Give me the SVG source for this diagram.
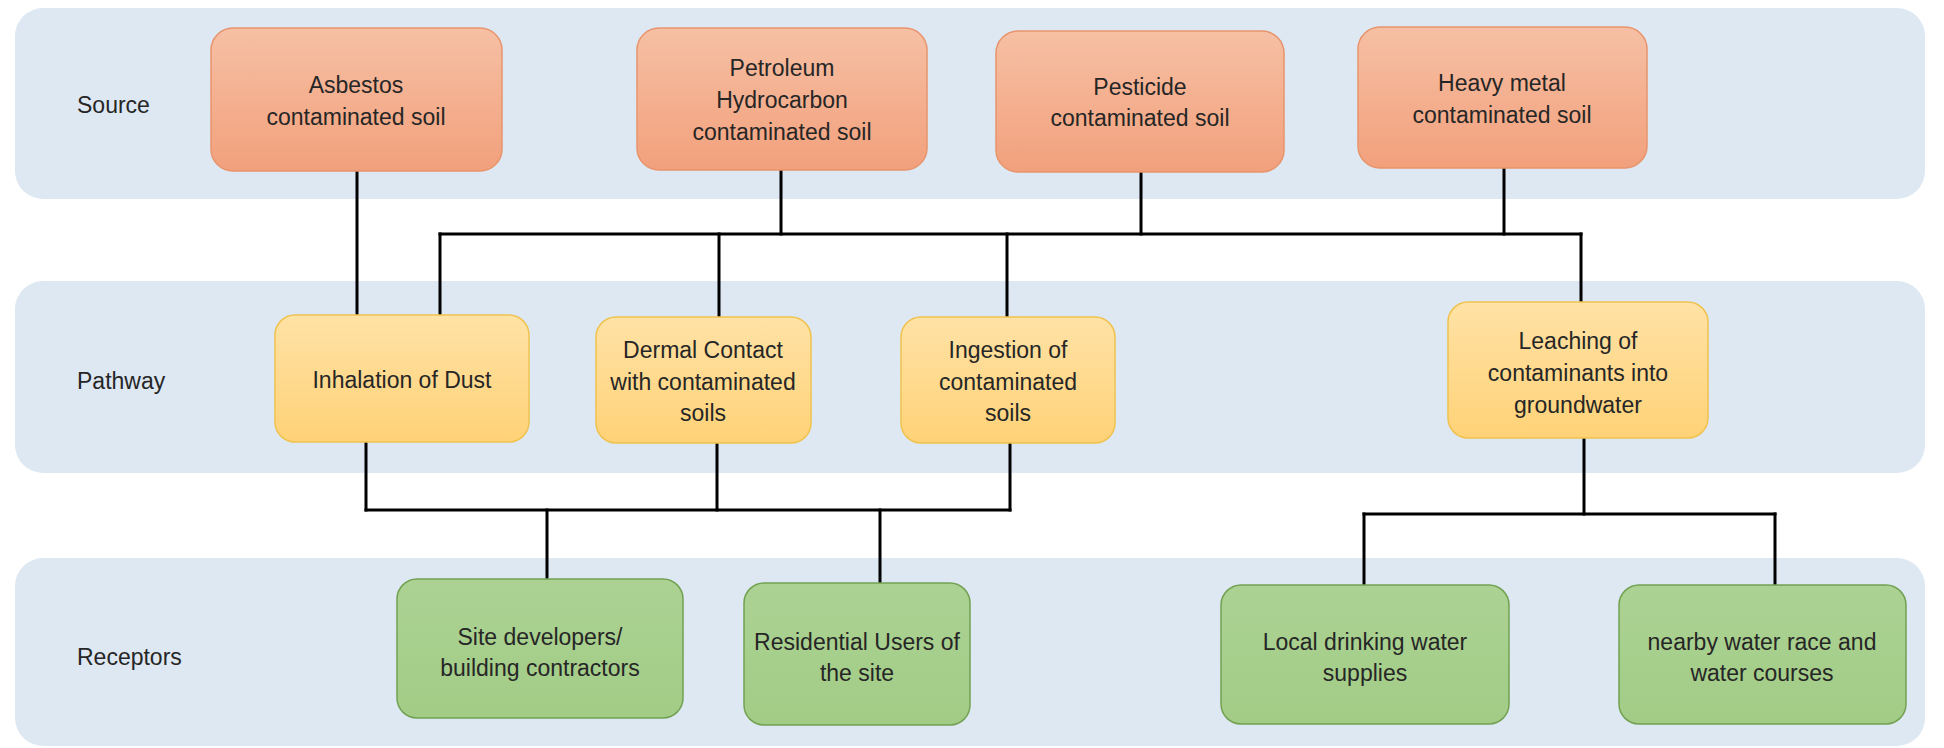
<svg xmlns="http://www.w3.org/2000/svg" width="1944" height="748" viewBox="0 0 1944 748">
<defs>
<linearGradient id="gSrc" x1="0" y1="0" x2="0" y2="1"><stop offset="0" stop-color="#f6c0a4"/><stop offset="1" stop-color="#f2a07c"/></linearGradient>
<linearGradient id="gPath" x1="0" y1="0" x2="0" y2="1"><stop offset="0" stop-color="#ffe2a6"/><stop offset="1" stop-color="#ffd277"/></linearGradient>
<linearGradient id="gRec" x1="0" y1="0" x2="0" y2="1"><stop offset="0" stop-color="#acd293"/><stop offset="1" stop-color="#a2cc86"/></linearGradient>
<style>
.band{fill:#dee8f3}
.src{fill:url(#gSrc);stroke:#e8946c;stroke-width:1.5}
.pth{fill:url(#gPath);stroke:#f0c24e;stroke-width:1.5}
.rec{fill:url(#gRec);stroke:#72a152;stroke-width:1.5}
text{font-family:"Liberation Sans",Arial,sans-serif;font-size:23px;fill:#262626}
.c{text-anchor:middle}
.conn line{stroke:#000;stroke-width:3;stroke-linecap:square}
</style>
</defs>
<g id="bands">
<rect class="band" x="15" y="8" width="1910" height="191" rx="28"/>
<rect class="band" x="15" y="281" width="1910" height="192" rx="28"/>
<rect class="band" x="15" y="558" width="1910" height="188" rx="28"/>
<text x="77" y="113">Source</text>
<text x="77" y="389">Pathway</text>
<text x="77" y="665">Receptors</text>
</g>
<g class="conn" id="connectors">
<line x1="357" y1="171" x2="357" y2="315"/>
<line x1="440" y1="234" x2="1581" y2="234"/>
<line x1="781" y1="170" x2="781" y2="234"/>
<line x1="1141" y1="172" x2="1141" y2="234"/>
<line x1="1504" y1="168" x2="1504" y2="234"/>
<line x1="440" y1="234" x2="440" y2="315"/>
<line x1="719" y1="234" x2="719" y2="317"/>
<line x1="1007" y1="234" x2="1007" y2="317"/>
<line x1="1581" y1="234" x2="1581" y2="302"/>
<line x1="366" y1="442" x2="366" y2="510"/>
<line x1="717" y1="443" x2="717" y2="510"/>
<line x1="1010" y1="443" x2="1010" y2="510"/>
<line x1="366" y1="510" x2="1010" y2="510"/>
<line x1="547" y1="510" x2="547" y2="579"/>
<line x1="880" y1="510" x2="880" y2="583"/>
<line x1="1584" y1="438" x2="1584" y2="514"/>
<line x1="1364" y1="514" x2="1775" y2="514"/>
<line x1="1364" y1="514" x2="1364" y2="585"/>
<line x1="1775" y1="514" x2="1775" y2="585"/>
</g>
<g id="asbestos"><rect class="src" x="211" y="28" width="291" height="143" rx="22"/><text class="c" x="356" y="93">Asbestos</text><text class="c" x="356" y="125">contaminated soil</text></g>
<g id="petroleum"><rect class="src" x="637" y="28" width="290" height="142" rx="22"/><text class="c" x="782" y="76">Petroleum</text><text class="c" x="782" y="108">Hydrocarbon</text><text class="c" x="782" y="140">contaminated soil</text></g>
<g id="pesticide"><rect class="src" x="996" y="31" width="288" height="141" rx="22"/><text class="c" x="1140" y="95">Pesticide</text><text class="c" x="1140" y="126">contaminated soil</text></g>
<g id="heavymetal"><rect class="src" x="1358" y="27" width="289" height="141" rx="22"/><text class="c" x="1502" y="91">Heavy metal</text><text class="c" x="1502" y="123">contaminated soil</text></g>
<g id="inhalation"><rect class="pth" x="275" y="315" width="254" height="127" rx="20"/><text class="c" x="402" y="388">Inhalation of Dust</text></g>
<g id="dermal"><rect class="pth" x="596" y="317" width="215" height="126" rx="20"/><text class="c" x="703" y="358">Dermal Contact</text><text class="c" x="703" y="390">with contaminated</text><text class="c" x="703" y="421">soils</text></g>
<g id="ingestion"><rect class="pth" x="901" y="317" width="214" height="126" rx="20"/><text class="c" x="1008" y="358">Ingestion of</text><text class="c" x="1008" y="390">contaminated</text><text class="c" x="1008" y="421">soils</text></g>
<g id="leaching"><rect class="pth" x="1448" y="302" width="260" height="136" rx="20"/><text class="c" x="1578" y="349">Leaching of</text><text class="c" x="1578" y="381">contaminants into</text><text class="c" x="1578" y="413">groundwater</text></g>
<g id="sitedev"><rect class="rec" x="397" y="579" width="286" height="139" rx="20"/><text class="c" x="540" y="645">Site developers/</text><text class="c" x="540" y="676">building contractors</text></g>
<g id="residential"><rect class="rec" x="744" y="583" width="226" height="142" rx="20"/><text class="c" x="857" y="650">Residential Users of</text><text class="c" x="857" y="681">the site</text></g>
<g id="drinking"><rect class="rec" x="1221" y="585" width="288" height="139" rx="20"/><text class="c" x="1365" y="650">Local drinking water</text><text class="c" x="1365" y="681">supplies</text></g>
<g id="watercourses"><rect class="rec" x="1619" y="585" width="287" height="139" rx="20"/><text class="c" x="1762" y="650">nearby water race and</text><text class="c" x="1762" y="681">water courses</text></g>
</svg>
